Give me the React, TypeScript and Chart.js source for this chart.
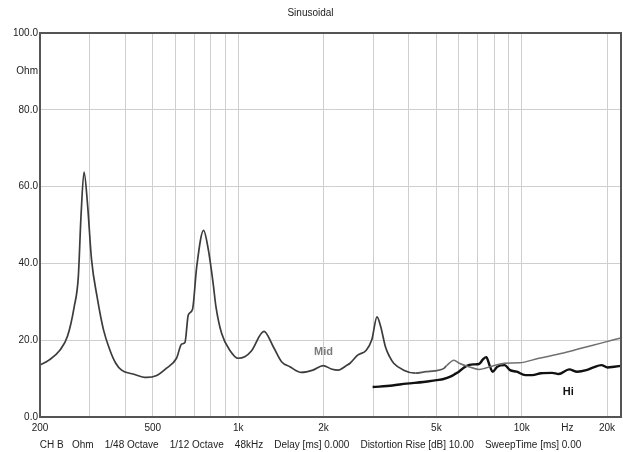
import React, { useEffect, useRef } from "react";
import { Chart, registerables } from "chart.js";

Chart.register(...registerables);

// ---- data ----
const midFreq = [200, 215, 235, 250, 264, 273, 279, 286, 294, 304, 318, 335, 353, 370, 388, 426, 475, 516, 559, 606, 632, 649, 667, 690, 714, 755, 785, 816, 835, 874, 934, 1000, 1055, 1113, 1233, 1330, 1422, 1521, 1670, 1834, 1995, 2130, 2252, 2410, 2480, 2640, 2830, 2960, 3088, 3183, 3306, 3420, 3536, 3834, 4212, 4600, 4935, 5300, 5422, 5770, 6024, 6500, 7070, 7900, 8700, 9800, 11500, 13900, 16200, 19200, 22400];
const midOhm = [13.5, 14.8, 17.4, 21.0, 28.7, 36.5, 52.2, 63.8, 55.7, 40.9, 31.3, 22.7, 17.4, 14.0, 12.2, 11.2, 10.3, 10.8, 12.7, 15.3, 19.0, 19.4, 26.6, 28.0, 39.1, 48.6, 43.5, 34.8, 28.7, 21.8, 17.4, 15.3, 15.7, 17.2, 22.3, 18.3, 14.4, 13.1, 11.6, 12.2, 13.4, 12.5, 12.2, 13.4, 14.0, 16.1, 17.4, 20.1, 26.1, 23.5, 18.3, 15.7, 14.0, 12.2, 11.4, 11.8, 12.0, 12.6, 13.3, 14.8, 14.0, 13.1, 12.4, 13.3, 14.0, 14.1, 15.3, 16.6, 17.9, 19.3, 20.6];

const hiFreq = [2980, 3500, 3920, 4500, 5000, 5300, 5600, 5850, 6000, 6350, 6740, 7070, 7300, 7500, 7700, 7900, 8200, 8700, 9100, 9600, 10300, 10900, 11700, 12800, 13500, 14700, 15700, 16900, 17900, 19100, 20100, 21200, 22400];
const hiOhm = [7.8, 8.2, 8.7, 9.1, 9.6, 9.9, 10.5, 11.3, 11.8, 13.2, 13.7, 13.8, 15.0, 15.6, 13.5, 11.8, 13.1, 13.5, 12.2, 11.8, 10.9, 10.9, 11.4, 11.5, 11.2, 12.4, 11.8, 12.2, 12.9, 13.5, 12.9, 13.1, 13.3];

const xTickValues = [200, 300, 400, 500, 600, 700, 800, 900, 1000, 2000, 3000, 4000, 5000, 6000, 7000, 8000, 9000, 10000, 14500, 20000];
const xTickLabelValues = [200, 500, 1000, 2000, 5000, 10000, 14500, 20000];
const xTickLabelTexts = ["200", "500", "1k", "2k", "5k", "10k", "Hz", "20k"];
const xUnitTick = 14500;

const yLabelValues = [0, 20, 40, 60, 80, 90, 100];
const yLabelTexts = ["0.0", "20.0", "40.0", "60.0", "80.0", "Ohm", "100.0"];
const yGridValues = [20, 40, 60, 80];

const noteTexts = ["Mid", "Hi"];
const noteFreq = [2000, 14600];
const noteOhm = [16.9, 6.6];
const noteColors = ["#7a7a7a", "#111111"];

const titleText = "Sinusoidal";
const footerText = "CH B   Ohm    1/48 Octave    1/12 Octave    48kHz    Delay [ms] 0.000    Distortion Rise [dB] 10.00    SweepTime [ms] 0.00";

const FONT = "'Liberation Sans', Arial, sans-serif";

const framePlugin = {
  id: "frameAndNotes",
  afterDatasetsDraw(chart: any) {
    const { ctx, chartArea, scales } = chart;
    ctx.save();
    ctx.strokeStyle = "#555";
    ctx.lineWidth = 2;
    ctx.strokeRect(chartArea.left, chartArea.top, chartArea.right - chartArea.left, chartArea.bottom - chartArea.top);
    ctx.font = `bold 11px ${FONT}`;
    ctx.textAlign = "center";
    ctx.textBaseline = "middle";
    noteTexts.forEach((t, i) => {
      ctx.fillStyle = noteColors[i];
      ctx.fillText(t, scales.x.getPixelForValue(noteFreq[i]), scales.y.getPixelForValue(noteOhm[i]));
    });
    ctx.restore();
  },
};

export default function App() {
  const ref = useRef<HTMLCanvasElement | null>(null);
  useEffect(() => {
    if (!ref.current) return;
    const chart = new Chart(ref.current, {
      type: "line",
      data: {
        datasets: [
          {
            label: "Mid",
            data: midFreq.map((f, i) => ({ x: f, y: midOhm[i] })),
            borderColor: "#3c3c3c",
            borderWidth: 1.8,
            pointRadius: 0,
            cubicInterpolationMode: "monotone",
            segment: {
              borderColor: (c: any) => (c.p0.parsed.x >= 5400 ? "#707070" : c.p0.parsed.x >= 4200 ? "#555555" : "#3c3c3c"),
              borderWidth: (c: any) => (c.p0.parsed.x >= 5400 ? 1.5 : 1.7),
            },
          },
          {
            label: "Hi",
            data: hiFreq.map((f, i) => ({ x: f, y: hiOhm[i] })),
            borderColor: "#111",
            borderWidth: 2.4,
            pointRadius: 0,
            cubicInterpolationMode: "monotone",
          },
        ],
      },
      options: {
        animation: false,
        responsive: true,
        maintainAspectRatio: false,
        layout: { padding: { left: 0, right: 2, top: 0, bottom: 0 } },
        plugins: {
          legend: { display: false },
          tooltip: { enabled: false },
          title: {
            display: true,
            text: titleText,
            color: "#222",
            font: { family: FONT, size: 10, weight: "normal" },
            padding: { top: 7, bottom: 14 },
          },
          subtitle: {
            display: true,
            position: "bottom",
            text: footerText,
            color: "#222",
            font: { family: FONT, size: 10, weight: "normal" },
            padding: { top: 4, bottom: 1 },
          },
        },
        scales: {
          x: {
            type: "logarithmic",
            min: 200,
            max: 22400,
            afterBuildTicks: (s: any) => {
              s.ticks = xTickValues.map((v) => ({ value: v }));
            },
            afterFit: (s: any) => {
              s.height = 18;
            },
            ticks: {
              autoSkip: false,
              maxRotation: 0,
              padding: 5,
              color: "#222",
              font: { family: FONT, size: 10 },
              callback: (v: any) => {
                const i = xTickLabelValues.indexOf(Number(v));
                return i >= 0 ? xTickLabelTexts[i] : "";
              },
            },
            grid: {
              drawTicks: false,
              color: (c: any) => (c.tick && c.tick.value === xUnitTick ? "rgba(0,0,0,0)" : "#cfcfcf"),
              lineWidth: 1,
            },
            border: { display: false },
          },
          y: {
            type: "linear",
            min: 0,
            max: 100,
            afterFit: (s: any) => {
              s.width = 40;
            },
            ticks: {
              stepSize: 10,
              padding: 2,
              color: "#222",
              font: { family: FONT, size: 10 },
              callback: (v: any) => {
                const i = yLabelValues.indexOf(Number(v));
                return i >= 0 ? yLabelTexts[i] : "";
              },
            },
            grid: {
              drawTicks: false,
              color: (c: any) => (c.tick && yGridValues.includes(c.tick.value) ? "#cfcfcf" : "rgba(0,0,0,0)"),
              lineWidth: 1,
            },
            border: { display: false },
          },
        },
      },
      plugins: [framePlugin],
    } as any);
    return () => chart.destroy();
  }, []);
  return (
    <div style={{ position: "fixed", left: 0, top: 0, width: 623, height: 452, background: "#fff" }}>
      <canvas ref={ref} />
    </div>
  );
}
